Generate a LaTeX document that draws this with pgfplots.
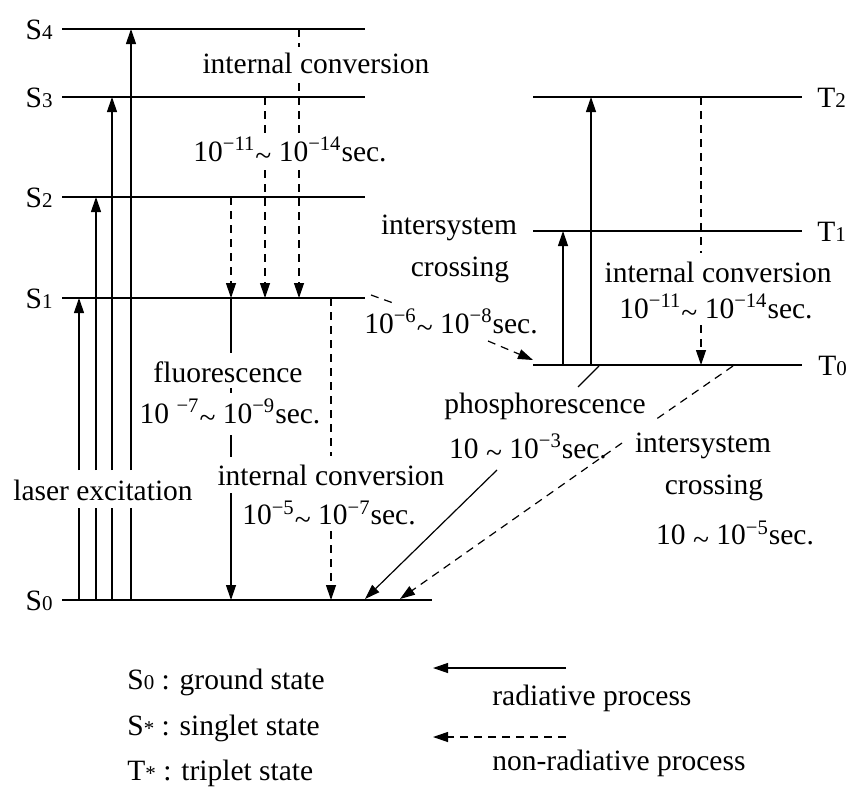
\documentclass[border=0pt]{standalone}
\usepackage{fontspec}
\setmainfont{Liberation Serif}
\usepackage{pgfplots}
\pgfplotsset{compat=1.18}
\usetikzlibrary{arrows.meta}
\newcommand{\sub}[1]{{\fontsize{10.5}{10.5}\selectfont #1}}
\newcommand{\sci}[1]{\textsuperscript{#1}}
\newcommand{\tl}{\raisebox{-0.3ex}{\textasciitilde}}
\tikzset{
  lev/.style={line width=1pt, black},
  rad/.style={line width=0.6pt, black},
  nrad/.style={line width=0.6pt, black, dash pattern=on 4pt off 3pt},
  tip/.style={-{Triangle[length=7.5pt,width=5pt]}},
  lbl/.style={font=\fontsize{14.75}{17.5}\selectfont, inner sep=1.5pt, align=center},
  lvl/.style={font=\fontsize{14.75}{17.5}\selectfont, inner sep=0pt},
}
\begin{document}
\begin{tikzpicture}
\begin{axis}[
  width=425pt, height=393.5pt, scale only axis,
  xmin=0, xmax=850, ymin=0, ymax=787, y dir=reverse,
  hide axis, clip=false,
  every axis plot/.append style={no marks},
]
% singlet levels
\addplot[lev] coordinates {(62,29) (365,29)};
\addplot[lev] coordinates {(62,97) (365,97)};
\addplot[lev] coordinates {(62,197) (365,197)};
\addplot[lev] coordinates {(62,298) (365,298)};
\addplot[lev] coordinates {(62,600) (432,600)};
% triplet levels
\addplot[lev] coordinates {(533,97) (802,97)};
\addplot[lev] coordinates {(533,231) (802,231)};
\addplot[lev] coordinates {(533,365) (802,365)};
% laser excitation (broken by the label)
\addplot[rad] coordinates {(79,600) (79,508)};
\addplot[rad, tip] coordinates {(79,470) (79,298)};
\addplot[rad] coordinates {(96,600) (96,508)};
\addplot[rad, tip] coordinates {(96,470) (96,197)};
\addplot[rad] coordinates {(112,600) (112,508)};
\addplot[rad, tip] coordinates {(112,470) (112,97)};
\addplot[rad] coordinates {(131,600) (131,508)};
\addplot[rad, tip] coordinates {(131,470) (131,29)};
% internal conversion S_n -> S1
\addplot[nrad, tip] coordinates {(231,197) (231,298)};
\addplot[nrad] coordinates {(265,97) (265,137)};
\addplot[nrad, tip] coordinates {(265,170) (265,298)};
\addplot[nrad] coordinates {(299,29) (299,47)};
\addplot[nrad] coordinates {(299,83) (299,137)};
\addplot[nrad, tip] coordinates {(299,170) (299,298)};
% fluorescence
\addplot[rad] coordinates {(231,298) (231,353)};
\addplot[rad] coordinates {(231,388) (231,393)};
\addplot[rad] coordinates {(231,435) (231,457)};
\addplot[rad, tip] coordinates {(231,493) (231,600)};
% internal conversion S1 -> S0
\addplot[nrad] coordinates {(331,298) (331,456)};
\addplot[nrad, tip] coordinates {(331,531) (331,600)};
% intersystem crossing S1 -> T0
\addplot[nrad] coordinates {(371,295) (396,304)};
\addplot[nrad, tip] coordinates {(488,341) (533,360)};
% triplet excitation
\addplot[rad, tip] coordinates {(563,365) (563,231)};
\addplot[rad, tip] coordinates {(591,365) (591,97)};
% internal conversion T2 -> T0
\addplot[nrad] coordinates {(701,97) (701,253)};
\addplot[nrad, tip] coordinates {(701,325) (701,365)};
% phosphorescence
\addplot[rad] coordinates {(599,366) (578,387)};
\addplot[rad, tip] coordinates {(497,470) (365,599)};
% intersystem crossing T0 -> S0
\addplot[nrad] coordinates {(733,366) (655,420)};
\addplot[nrad, tip] coordinates {(622,443) (400,599)};
% legend arrows
\addplot[rad, tip] coordinates {(566,668) (433,668)};
\addplot[nrad, tip] coordinates {(566,737) (433,737)};

% labels on the levels
\node[lvl, anchor=east] at (axis cs:53,30) {S\sub{4}};
\node[lvl, anchor=east] at (axis cs:53,98) {S\sub{3}};
\node[lvl, anchor=east] at (axis cs:53,198) {S\sub{2}};
\node[lvl, anchor=east] at (axis cs:53,299) {S\sub{1}};
\node[lvl, anchor=east] at (axis cs:53,601) {S\sub{0}};
\node[lvl, anchor=west] at (axis cs:817,98) {T\sub{2}};
\node[lvl, anchor=west] at (axis cs:817,232) {T\sub{1}};
\node[lvl, anchor=west] at (axis cs:818,366) {T\sub{0}};

% process texts
\node[lbl] at (axis cs:316,63) {internal conversion};
\node[lbl] at (axis cs:290,151) {10\sci{−11}\tl\ 10\sci{−14}sec.};
\node[lbl] at (axis cs:228,372) {fluorescence};
\node[lbl] at (axis cs:230,413) {10 \sci{−7}\tl\ 10\sci{−9}sec.};
\node[lbl] at (axis cs:331,475) {internal conversion};
\node[lbl] at (axis cs:329,515) {10\sci{−5}\tl\ 10\sci{−7}sec.};
\node[lbl] at (axis cs:103,490) {laser excitation};
\node[lbl] at (axis cs:449,228) {intersystem};
\node[lbl] at (axis cs:460,270) {crossing};
\node[lbl] at (axis cs:451,323) {10\sci{−6}\tl\ 10\sci{−8}sec.};
\node[lbl] at (axis cs:718,272) {internal conversion};
\node[lbl] at (axis cs:716,308) {10\sci{−11}\tl\ 10\sci{−14}sec.};
\node[lbl] at (axis cs:545,406) {phosphorescence};
\node[lbl] at (axis cs:528,448) {10 \tl\ 10\sci{−3}sec.};
\node[lbl] at (axis cs:703,446) {intersystem};
\node[lbl] at (axis cs:714,488) {crossing};
\node[lbl] at (axis cs:735,535) {10 \tl\ 10\sci{−5}sec.};

% legend texts
\node[lvl, anchor=west] at (axis cs:127,682) {S\sub{0} : ground state};
\node[lvl, anchor=west] at (axis cs:127,728) {S\sub{*} : singlet state};
\node[lvl, anchor=west] at (axis cs:127,773) {T\sub{*} : triplet state};
\node[lvl, anchor=west] at (axis cs:492,698) {radiative process};
\node[lvl, anchor=west] at (axis cs:492,763) {non-radiative process};
\end{axis}
\pgfresetboundingbox
\path (current axis.south west) rectangle (current axis.north east);
\end{tikzpicture}
\end{document}
